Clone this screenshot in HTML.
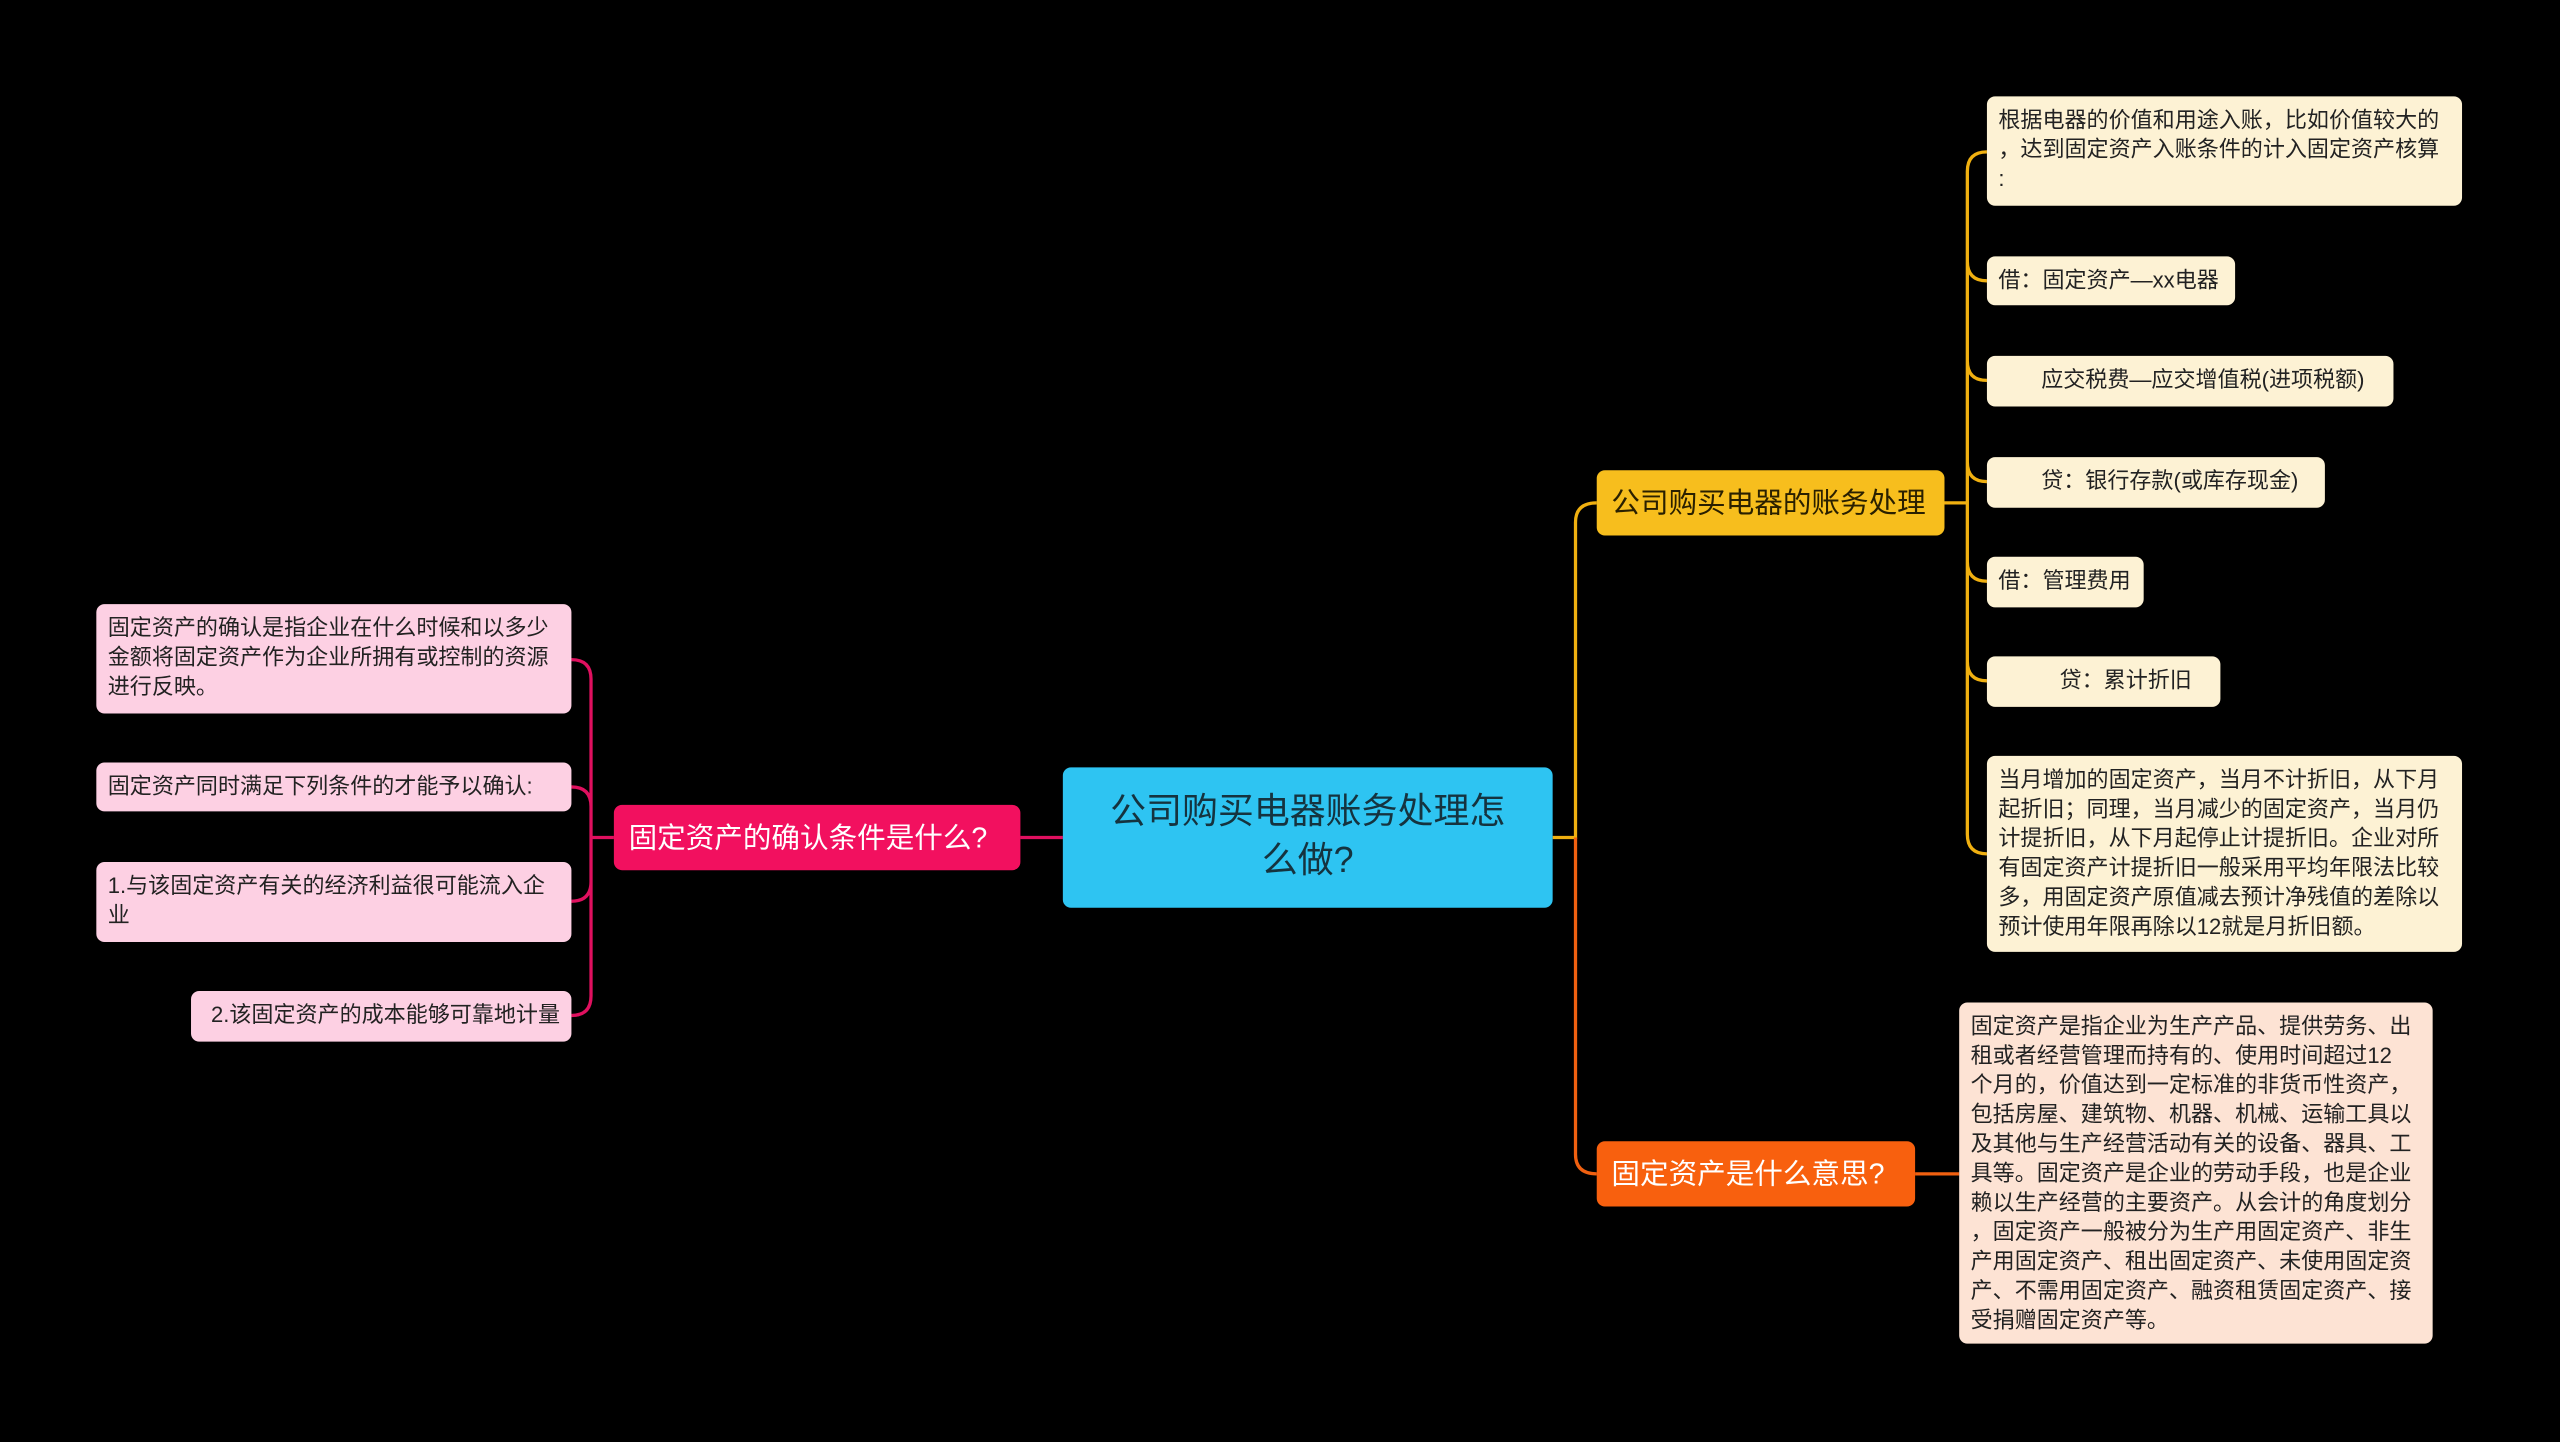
<!DOCTYPE html>
<html><head><meta charset="utf-8"><style>
html,body{margin:0;padding:0;background:#000;width:2560px;height:1441px;overflow:hidden}
#s{position:absolute;left:0;top:0;width:1568px;height:883px;transform:scale(1.63265);transform-origin:0 0;font-family:"Liberation Sans","Noto Sans CJK SC",sans-serif}
.n{position:absolute;box-sizing:border-box;border-radius:5px}
.leaf{font-size:13.5px;line-height:18px;color:#222;padding:6px 7px;white-space:nowrap;overflow:hidden}
.pk{background:#fdd0e3}
.cr{background:#fdf2d4}
.pe{background:#fde3d4}
.br{font-size:17.5px;line-height:40px;padding:0 9px;white-space:nowrap}
</style></head><body><div id="s">
<svg width="1568" height="883" style="position:absolute;left:0;top:0">
<g fill="none" stroke-width="2">
<path d="M625 513 H651" stroke="#e0105f"/>
<path d="M376 513 H362" stroke="#e0105f"/>
<path d="M350 404 Q362 404 362 416 V610 Q362 622 350 622 M350 482 Q362 482 362 494 M350 552 Q362 552 362 540" stroke="#e0105f"/>
<path d="M951 513 H965 V320 Q965 308 978 308" stroke="#f0b010"/>
<path d="M965 513 V707 Q965 719 978 719" stroke="#f06010"/>
<path d="M1191 308 H1205" stroke="#f0b010"/>
<path d="M1217 93 Q1205 93 1205 105 V511 Q1205 523 1217 523 M1205 160 Q1205 172 1217 172 M1205 221 Q1205 233 1217 233 M1205 283 Q1205 295 1217 295 M1205 344 Q1205 356 1217 356 M1205 405 Q1205 417 1217 417" stroke="#f0b010"/>
<path d="M1173 719 H1200" stroke="#f06010"/>
</g></svg>
<div class="n" style="left:651px;top:470px;width:300px;height:86px;background:#2ec4f2;color:#15333f;font-size:22px;line-height:30px;text-align:center;padding-top:12px">公司购买电器账务处理怎<br>么做?</div>
<div class="n br" style="left:376px;top:493px;width:249px;height:40px;background:#f2105f;color:#fff">固定资产的确认条件是什么?</div>
<div class="n leaf pk" style="left:59px;top:370px;width:291px;height:67px">固定资产的确认是指企业在什么时候和以多少<br>金额将固定资产作为企业所拥有或控制的资源<br>进行反映。</div>
<div class="n leaf pk" style="left:59px;top:467px;width:291px;height:30px">固定资产同时满足下列条件的才能予以确认:</div>
<div class="n leaf pk" style="left:59px;top:528px;width:291px;height:49px">1.与该固定资产有关的经济利益很可能流入企<br>业</div>
<div class="n leaf pk" style="left:117px;top:607px;width:233px;height:31px;text-align:right">2.该固定资产的成本能够可靠地计量</div>
<div class="n br" style="left:978px;top:288px;width:213px;height:40px;background:#f7be1d;color:#2a2000">公司购买电器的账务处理</div>
<div class="n br" style="left:978px;top:699px;width:195px;height:40px;background:#f8600e;color:#fff">固定资产是什么意思?</div>
<div class="n leaf cr" style="left:1217px;top:59px;width:291px;height:67px">根据电器的价值和用途入账，比如价值较大的<br>，达到固定资产入账条件的计入固定资产核算<br>:</div>
<div class="n leaf cr" style="left:1217px;top:157px;width:152px;height:30px">借：固定资产—xx电器</div>
<div class="n leaf cr" style="left:1217px;top:218px;width:249px;height:31px">&nbsp;&nbsp;&nbsp;&nbsp;&nbsp;&nbsp;&nbsp;应交税费—应交增值税(进项税额)</div>
<div class="n leaf cr" style="left:1217px;top:280px;width:207px;height:31px">&nbsp;&nbsp;&nbsp;&nbsp;&nbsp;&nbsp;&nbsp;贷：银行存款(或库存现金)</div>
<div class="n leaf cr" style="left:1217px;top:341px;width:96px;height:31px">借：管理费用</div>
<div class="n leaf cr" style="left:1217px;top:402px;width:143px;height:31px">&nbsp;&nbsp;&nbsp;&nbsp;&nbsp;&nbsp;&nbsp;&nbsp;&nbsp;&nbsp;贷：累计折旧</div>
<div class="n leaf cr" style="left:1217px;top:463px;width:291px;height:120px">当月增加的固定资产，当月不计折旧，从下月<br>起折旧；同理，当月减少的固定资产，当月仍<br>计提折旧，从下月起停止计提折旧。企业对所<br>有固定资产计提折旧一般采用平均年限法比较<br>多，用固定资产原值减去预计净残值的差除以<br>预计使用年限再除以12就是月折旧额。</div>
<div class="n leaf pe" style="left:1200px;top:614px;width:290px;height:209px">固定资产是指企业为生产产品、提供劳务、出<br>租或者经营管理而持有的、使用时间超过12<br>个月的，价值达到一定标准的非货币性资产，<br>包括房屋、建筑物、机器、机械、运输工具以<br>及其他与生产经营活动有关的设备、器具、工<br>具等。固定资产是企业的劳动手段，也是企业<br>赖以生产经营的主要资产。从会计的角度划分<br>，固定资产一般被分为生产用固定资产、非生<br>产用固定资产、租出固定资产、未使用固定资<br>产、不需用固定资产、融资租赁固定资产、接<br>受捐赠固定资产等。</div>
</div></body></html>
